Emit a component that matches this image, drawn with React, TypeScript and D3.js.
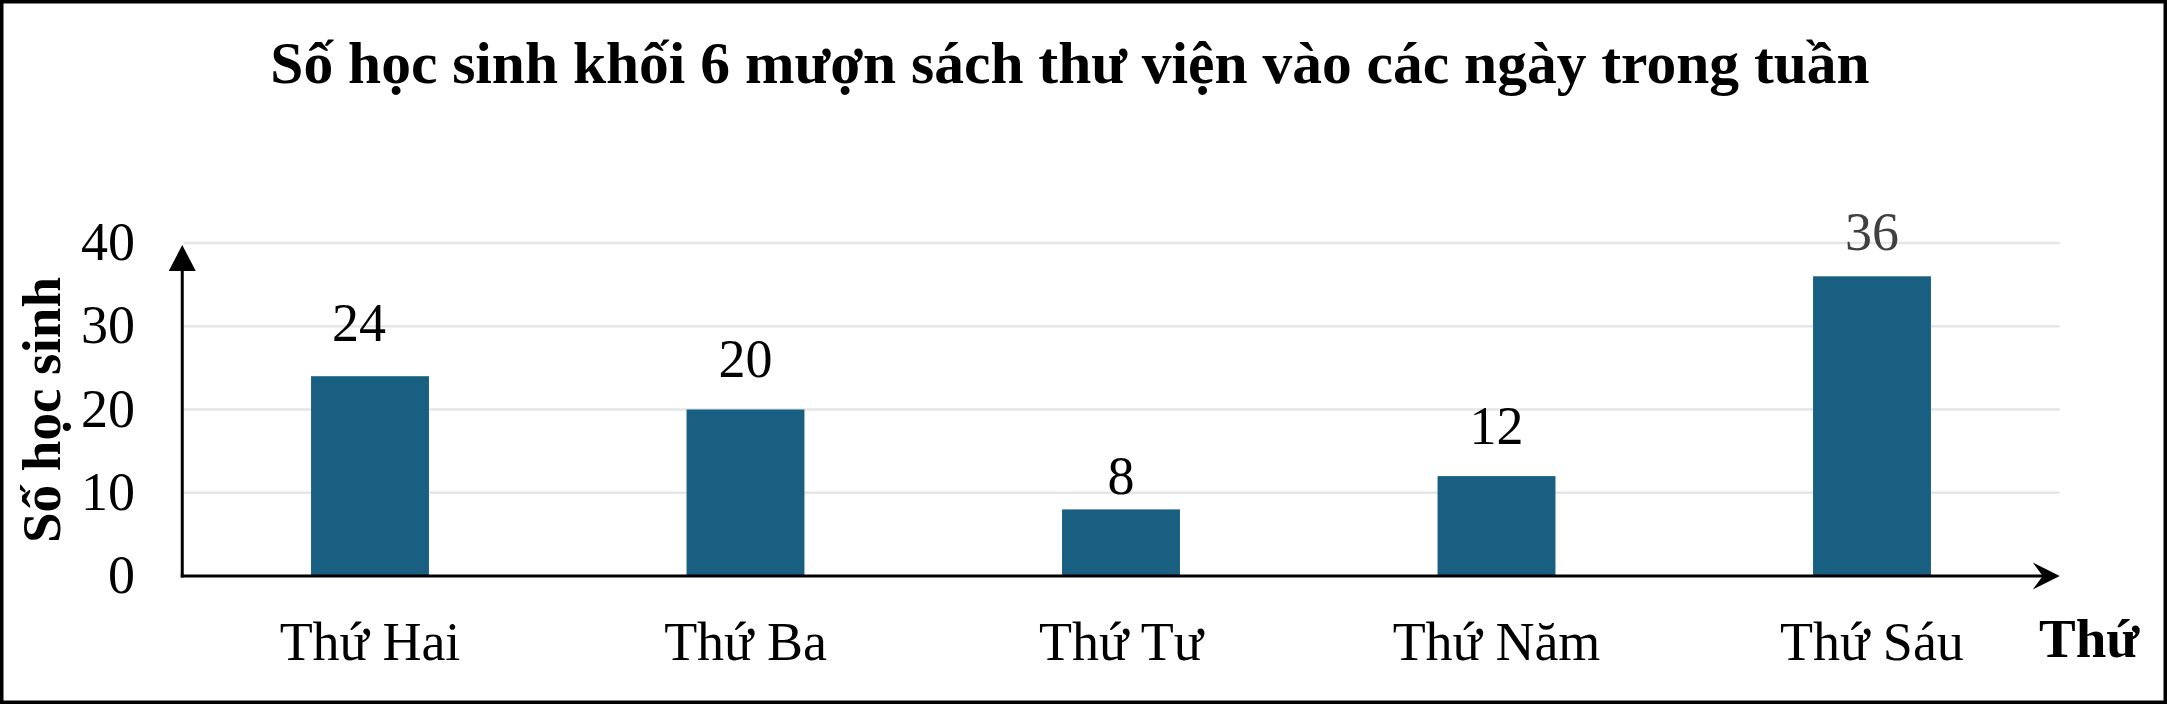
import React, { useEffect } from "react";
import * as d3 from "d3";

const categories = ["Thứ Hai", "Thứ Ba", "Thứ Tư", "Thứ Năm", "Thứ Sáu"];
const values = [24, 20, 8, 12, 36];
const yTicks = [0, 10, 20, 30, 40];
const title = "Số học sinh khối 6 mượn sách thư viện vào các ngày trong tuần";
const yTitle = "Số học sinh";
const xTitle = "Thứ";

// label placement tweaks (style, not data)
const labelGap = [35, 33, 15, 32, 26];
const labelDx = [-11, 0, 0, 0, 0];
const labelColor = ["#000", "#000", "#000", "#000", "#404040"];

const W = 2167;
const H = 704;
const FONT = "'Liberation Serif', 'Times New Roman', serif";
const BAR = "#185f81";
const GRID = "#e6e6e6";

export default function App() {
  useEffect(() => {
    document.body.style.margin = "0";
  }, []);

  const x = d3
    .scaleBand<string>()
    .domain(categories)
    .range([182.25, 2059.75])
    .paddingInner(0.686)
    .paddingOuter(0.343);
  const y = d3.scaleLinear().domain([0, 40]).range([576, 243]);

  const axisX = x.range()[0];
  const axisY = y(0);
  const xEnd = x.range()[1];

  return (
    <svg
      width={W}
      height={H}
      style={{ position: "absolute", left: 0, top: 0, display: "block", background: "#fff" }}
      fontFamily={FONT}
    >
      <rect x={0} y={0} width={W} height={H} fill="#fff" />
      <rect x={1.75} y={1.75} width={W - 3.5} height={H - 3.5} fill="none" stroke="#000" strokeWidth={3.5} />

      <text x={1070} y={83} textAnchor="middle" fontSize={59.5} fontWeight="bold" fill="#000">
        {title}
      </text>

      {/* gridlines */}
      {yTicks
        .filter((t) => t > 0)
        .map((t) => (
          <line key={t} x1={axisX + 1} x2={xEnd} y1={y(t)} y2={y(t)} stroke={GRID} strokeWidth={2.5} />
        ))}

      {/* y tick labels */}
      {yTicks.map((t) => (
        <text key={t} x={135} y={y(t) + 17} textAnchor="end" fontSize={54} fill="#000">
          {t}
        </text>
      ))}

      {/* bars */}
      {categories.map((c, i) => (
        <rect
          key={c}
          x={x(c)!}
          y={y(values[i])}
          width={x.bandwidth()}
          height={axisY - y(values[i])}
          fill={BAR}
        />
      ))}

      {/* value labels */}
      {categories.map((c, i) => (
        <text
          key={c}
          x={x(c)! + x.bandwidth() / 2 + labelDx[i]}
          y={y(values[i]) - labelGap[i]}
          textAnchor="middle"
          fontSize={54}
          fill={labelColor[i]}
        >
          {values[i]}
        </text>
      ))}

      {/* category labels */}
      {categories.map((c) => (
        <text key={c} x={x(c)! + x.bandwidth() / 2} y={660} textAnchor="middle" fontSize={54} fill="#000">
          {c}
        </text>
      ))}

      {/* axes */}
      <line x1={axisX} x2={axisX} y1={axisY + 1.5} y2={262} stroke="#000" strokeWidth={3} />
      <path
        d={`M${axisX},245 L${axisX + 13.5},271 L${axisX - 13.5},271 Z`}
        fill="#000"
      />
      <line x1={axisX - 1.5} x2={xEnd - 12} y1={axisY} y2={axisY} stroke="#000" strokeWidth={3} />
      <path
        d={`M${xEnd},${axisY} L${xEnd - 27},${axisY - 13.5} L${xEnd - 17},${axisY} L${xEnd - 27},${axisY + 13.5} Z`}
        fill="#000"
      />

      {/* axis titles */}
      <text
        transform={`translate(60,410) rotate(-90)`}
        textAnchor="middle"
        fontSize={55}
        fontWeight="bold"
        fill="#000"
      >
        {yTitle}
      </text>
      <text x={2039} y={657} fontSize={55} fontWeight="bold" fill="#000">
        {xTitle}
      </text>
    </svg>
  );
}
